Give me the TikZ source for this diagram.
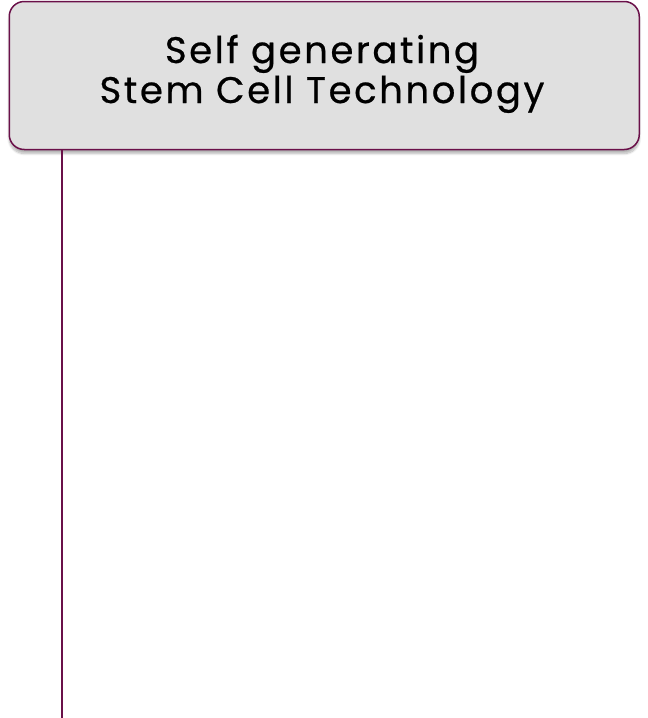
\documentclass[tikz,border=0pt]{standalone}
\usepackage{fontspec}
\setmainfont{Poppins}[LetterSpace=7,FakeBold=0.6]
\usetikzlibrary{shadows.blur}
\definecolor{edge}{HTML}{6A1049}
\definecolor{boxfill}{HTML}{E0E0E0}
\begin{document}
\begin{tikzpicture}[x=1pt,y=-1pt,
  titlebox/.style={draw=edge,line width=1.5pt,fill=boxfill,rounded corners=15pt,
    blur shadow={shadow xshift=0pt,shadow yshift=-4pt,shadow blur steps=8,shadow opacity=30}},
  titletext/.style={align=center,inner sep=0pt,font=\fontsize{37}{40}\selectfont},
  link/.style={draw=edge,line width=1.6pt}]
\useasboundingbox (0,0) rectangle (648,718);
\node[titlebox,minimum width=630pt,minimum height=148pt,anchor=north west] (box) at (8.5,0.75) {};
\node[titletext,anchor=base] (title) at (322,103) {Self generating\\Stem Cell Technology};
\coordinate (bottom) at (62,718);
\draw[link] (box.south west -| bottom) -- (bottom);
\end{tikzpicture}
\end{document}
